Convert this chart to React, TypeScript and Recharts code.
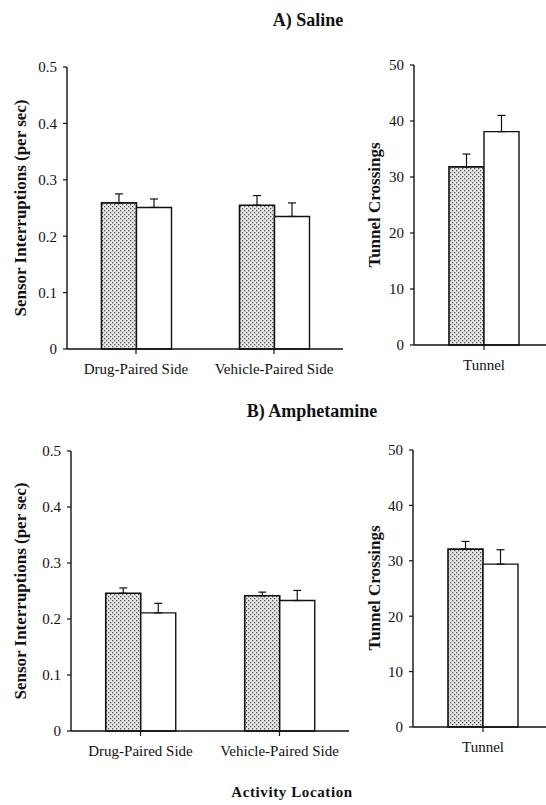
import React from 'react';
import { BarChart, Bar, XAxis, YAxis, ErrorBar } from 'recharts';

// activity location categories
const sideCategories = ['Drug-Paired Side', 'Vehicle-Paired Side'];
const tunnelCategories = ['Tunnel'];

// A) Saline
const salineShaded = [0.259, 0.255];
const salineShadedErr = [0.016, 0.017];
const salineOpen = [0.251, 0.235];
const salineOpenErr = [0.015, 0.024];
const salineTunnelShaded = [31.8];
const salineTunnelShadedErr = [2.3];
const salineTunnelOpen = [38.1];
const salineTunnelOpenErr = [2.9];

// B) Amphetamine
const amphShaded = [0.246, 0.2415];
const amphShadedErr = [0.0095, 0.0065];
const amphOpen = [0.211, 0.233];
const amphOpenErr = [0.017, 0.018];
const amphTunnelShaded = [32.1];
const amphTunnelShadedErr = [1.4];
const amphTunnelOpen = [29.4];
const amphTunnelOpenErr = [2.6];

const sensorTicks = [0, 0.1, 0.2, 0.3, 0.4, 0.5];
const tunnelTicks = [0, 10, 20, 30, 40, 50];

const FONT = '"Liberation Serif", "Times New Roman", serif';
const INK = '#111';

const build = (cats: string[], shaded: number[], shadedErr: number[], open: number[], openErr: number[]) =>
  cats.map((c, i) => ({
    name: c,
    shaded: shaded[i],
    shadedErr: [0, shadedErr[i]],
    open: open[i],
    openErr: [0, openErr[i]],
  }));

interface PanelProps {
  data: ReturnType<typeof build>;
  left: number;
  top: number;
  width: number;
  height: number;
  marginTop: number;
  marginRight: number;
  yWidth: number;
  xHeight: number;
  ticks: number[];
}

function Panel({ data, left, top, width, height, marginTop, marginRight, yWidth, xHeight, ticks }: PanelProps) {
  const tick = { fontSize: 15, fill: INK, fontFamily: FONT };
  return (
    <div style={{ position: 'absolute', left, top }}>
      <BarChart
        width={width}
        height={height}
        data={data}
        margin={{ top: marginTop, right: marginRight, bottom: 0, left: 0 }}
        barCategoryGap="25%"
        barGap={0}
      >
        <XAxis
          dataKey="name"
          height={xHeight}
          tick={tick}
          tickSize={5}
          tickMargin={9}
          axisLine={{ stroke: INK, strokeWidth: 1.4 }}
          tickLine={{ stroke: INK, strokeWidth: 1.2 }}
        />
        <YAxis
          width={yWidth}
          domain={[ticks[0], ticks[ticks.length - 1]]}
          ticks={ticks}
          interval={0}
          tick={tick}
          tickSize={4}
          tickMargin={6}
          axisLine={{ stroke: INK, strokeWidth: 1.4 }}
          tickLine={{ stroke: INK, strokeWidth: 1.2 }}
        />
        <Bar dataKey="shaded" fill="url(#stipple)" stroke={INK} strokeWidth={1.6} isAnimationActive={false}>
          <ErrorBar dataKey="shadedErr" width={4} stroke={INK} strokeWidth={1.2} direction="y" />
        </Bar>
        <Bar dataKey="open" fill="#fff" stroke={INK} strokeWidth={1.4} isAnimationActive={false}>
          <ErrorBar dataKey="openErr" width={4} stroke={INK} strokeWidth={1.2} direction="y" />
        </Bar>
      </BarChart>
    </div>
  );
}

export default function App() {
  const salineSide = build(sideCategories, salineShaded, salineShadedErr, salineOpen, salineOpenErr);
  const salineTunnel = build(tunnelCategories, salineTunnelShaded, salineTunnelShadedErr, salineTunnelOpen, salineTunnelOpenErr);
  const amphSide = build(sideCategories, amphShaded, amphShadedErr, amphOpen, amphOpenErr);
  const amphTunnel = build(tunnelCategories, amphTunnelShaded, amphTunnelShadedErr, amphTunnelOpen, amphTunnelOpenErr);

  const bold = { fontFamily: FONT, fontWeight: 700, fill: INK };

  return (
    <div
      style={{
        position: 'absolute', left: 0, top: 0, width: 546, height: 805,
        overflow: 'hidden', background: '#fff', fontFamily: FONT,
      }}
    >
      <svg width={0} height={0} style={{ position: 'absolute' }}>
        <defs>
          <pattern id="stipple" width={4} height={4} patternUnits="userSpaceOnUse">
            <rect width={4} height={4} fill="#e8e8e8" />
            <rect x={0} y={0} width={1.3} height={1.3} fill="#555" />
            <rect x={2} y={2} width={1.3} height={1.3} fill="#555" />
          </pattern>
        </defs>
      </svg>

      <Panel data={salineSide} left={0} top={50} width={350} height={330}
        marginTop={17} marginRight={7} yWidth={67} xHeight={31} ticks={sensorTicks} />
      <Panel data={salineTunnel} left={360} top={50} width={200} height={330}
        marginTop={15} marginRight={6} yWidth={54} xHeight={35} ticks={tunnelTicks} />
      <Panel data={amphSide} left={0} top={440} width={355} height={340}
        marginTop={11} marginRight={6} yWidth={71} xHeight={49} ticks={sensorTicks} />
      <Panel data={amphTunnel} left={360} top={440} width={200} height={340}
        marginTop={10} marginRight={7} yWidth={53} xHeight={53} ticks={tunnelTicks} />

      <svg width={546} height={805} style={{ position: 'absolute', left: 0, top: 0, pointerEvents: 'none' }}>
        <text x={308} y={26} textAnchor="middle" fontSize={18} {...bold}>A) Saline</text>
        <text x={312} y={417} textAnchor="middle" fontSize={18} {...bold}>B) Amphetamine</text>
        <text x={292} y={797} textAnchor="middle" fontSize={15} letterSpacing={0.6} {...bold}>Activity Location</text>
        <text x={20} y={208} transform="rotate(-90, 20, 208)" textAnchor="middle" dominantBaseline="central" fontSize={17} {...bold}>
          Sensor Interruptions (per sec)
        </text>
        <text x={374} y={205} transform="rotate(-90, 374, 205)" textAnchor="middle" dominantBaseline="central" fontSize={17} {...bold}>
          Tunnel Crossings
        </text>
        <text x={20} y={591} transform="rotate(-90, 20, 591)" textAnchor="middle" dominantBaseline="central" fontSize={17} {...bold}>
          Sensor Interruptions (per sec)
        </text>
        <text x={374} y={588} transform="rotate(-90, 374, 588)" textAnchor="middle" dominantBaseline="central" fontSize={17} {...bold}>
          Tunnel Crossings
        </text>
      </svg>
    </div>
  );
}
